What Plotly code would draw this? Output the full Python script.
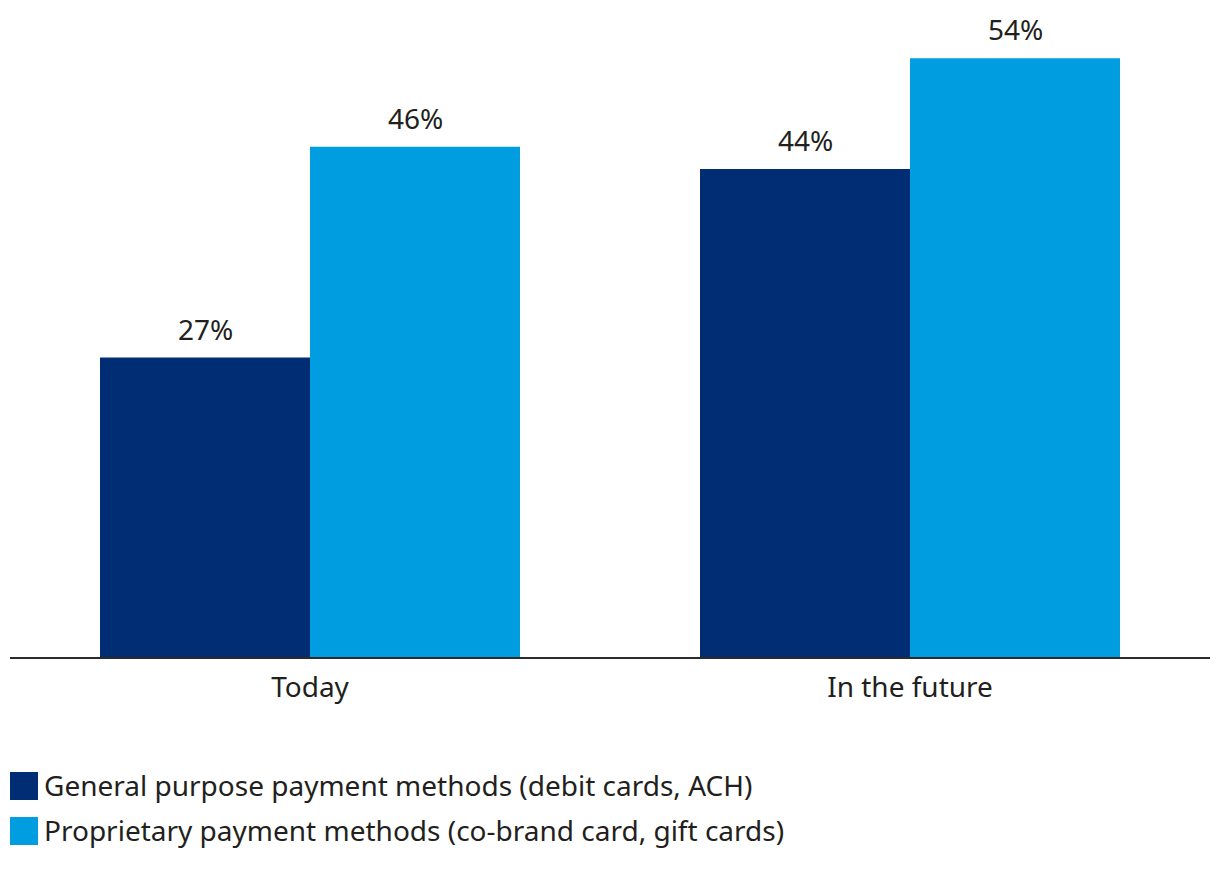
import plotly.graph_objects as go

categories = ["Today", "In the future"]
series_names = [
    "General purpose payment methods (debit cards, ACH)",
    "Proprietary payment methods (co-brand card, gift cards)",
]
general_values = [27, 44]
proprietary_values = [46, 54]
colors = ["#002d74", "#009ee0"]

FONT = "Noto Sans"
TEXT_COLOR = "#231f20"
FS = 28

# page has an 8px body margin; figure sized to fit the window
OFF = 8
W, H = 1220 - OFF, 876 - OFF
L, T = 10 - OFF, 20 - OFF
PLOT_RIGHT, PLOT_BOTTOM = 1210 - OFF, 657 - OFF
R, B = W - PLOT_RIGHT, H - PLOT_BOTTOM
PW, PH = W - L - R, H - T - B


def px(x):
    return (x - OFF - L) / PW


def py(y):
    return (PLOT_BOTTOM - (y - OFF)) / PH


fig = go.Figure()
for name, vals, col in zip(series_names, [general_values, proprietary_values], colors):
    fig.add_trace(go.Bar(x=categories, y=vals, name=name,
                         marker=dict(color=col, line=dict(width=0)), showlegend=False))

# value labels above bars
offsets = [-105, 105]
for vals, off in zip([general_values, proprietary_values], offsets):
    for c, v in zip(categories, vals):
        fig.add_annotation(x=c, y=v, text=f"{v}%", showarrow=False, xshift=off, yshift=8,
                           yanchor="bottom", font=dict(family=FONT, size=FS, color=TEXT_COLOR))

# custom legend
legend_y = [786, 831]
for name, col, yc in zip(series_names, colors, legend_y):
    fig.add_shape(type="rect", xref="paper", yref="paper", x0=px(10), x1=px(38),
                  y0=py(yc + 14), y1=py(yc - 14), fillcolor=col, line=dict(width=0))
    fig.add_annotation(xref="paper", yref="paper", x=px(42), y=py(yc - 1), text=name,
                       showarrow=False, xanchor="left", yanchor="middle",
                       font=dict(family=FONT, size=FS, color=TEXT_COLOR))

fig.update_layout(
    width=W, height=H,
    margin=dict(l=L, r=R, t=T, b=B),
    paper_bgcolor="white", plot_bgcolor="white",
    barmode="group", bargap=0.3, bargroupgap=0,
    font=dict(family=FONT, size=FS, color=TEXT_COLOR),
    xaxis=dict(showline=True, linecolor="#2b2b2b", linewidth=2, ticks="",
               ticklabelstandoff=4,
               showgrid=False, zeroline=False, tickfont=dict(size=FS, color=TEXT_COLOR)),
    yaxis=dict(range=[0, PH / 11.09], visible=False, showgrid=False, zeroline=False),
)

fig.write_html("out.html")
